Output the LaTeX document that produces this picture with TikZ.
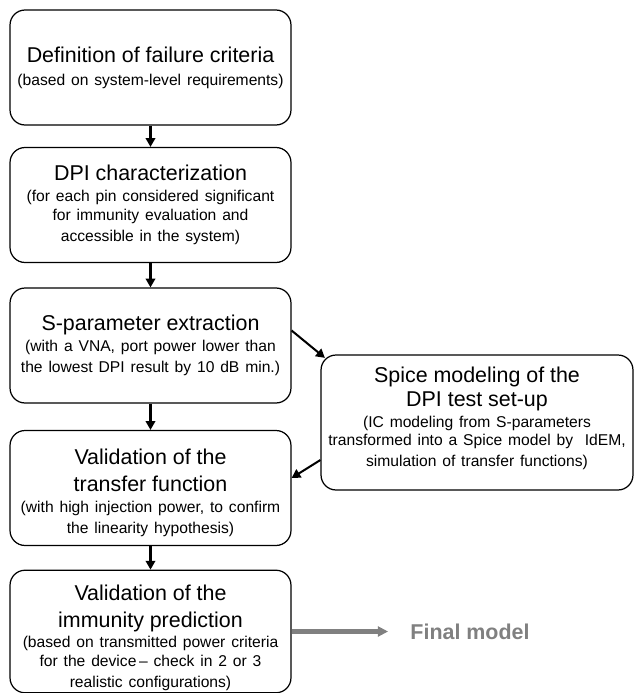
\documentclass[tikz,border=0pt]{standalone}
\usepackage{fontspec}
\setmainfont{Liberation Sans}
\usetikzlibrary{arrows.meta}
\newcommand{\ttlfont}{\fontsize{12.2}{15}\selectfont}
\newcommand{\subfont}{\fontsize{8.9}{10.8}\selectfont}
\tikzset{
  stepbox/.style={draw, line width=0.7pt, rounded corners=0.3cm, align=center,
    text width=5.45cm, minimum width=5.62cm, minimum height=2.3cm, inner sep=1pt},
  flow/.style={line width=1.15pt, -{Triangle[length=5pt,width=5.4pt]}},
  outflow/.style={line width=2.3pt, color=black!50, -{Triangle[length=5.8pt,width=5.6pt]}}
}

\begin{document}
\begin{tikzpicture}[x=0.02cm, y=-0.02cm]
			%%%%% START %%%%%
			\useasboundingbox (0, 0) rectangle (635, 693);
			
			% left column
			\node[stepbox] (crit) at (150.5, 67.5) {\ttlfont Definition of failure criteria\\[1pt]
				\subfont (based on system-level requirements)};
			\node[stepbox] (dpi) at (150.5, 205) {\ttlfont DPI characterization\\[1.5pt]
				\subfont (for each pin considered significant\\for immunity evaluation and\\accessible in the system)};
			\node[stepbox] (spar) at (150.5, 345.5) {\ttlfont S-parameter extraction\\[1.5pt]
				\subfont (with a VNA, port power lower than\\the lowest DPI result by 10 dB min.)};
			\node[stepbox] (trans) at (150.5, 488) {\ttlfont\rule{0pt}{14.6pt}Validation of the\\transfer function\\[1.5pt]
				\subfont (with high injection power, to confirm\\the linearity hypothesis)};
			\node[stepbox, minimum height=2.34cm] (immu) at (150.5, 631.5) {\ttlfont\rule{0pt}{16.5pt}Validation of the\\immunity prediction\\[0.8pt]
				\subfont (based on transmitted power criteria\\for the device\,-- check in 2 or 3\\realistic configurations)};
			
			% right box
			\node[stepbox, text width=6.1cm, minimum width=6.24cm, minimum height=2.7cm] (spice) at (477, 422.5)
				{\ttlfont Spice modeling of the\\[-1.5pt]DPI test set-up\\[1.5pt]
				\fontsize{8.9}{10.2}\selectfont (IC modeling from S-parameters\\transformed into a Spice model by\ \ IdEM,\\simulation of transfer functions)\rule[-6.5pt]{0pt}{0pt}};
			
			\node[inner sep=0pt, text=black!50, font=\fontsize{12.2}{15}\selectfont\bfseries] (final) at (470, 631.5) {Final model};
			
			% connectors
			\draw[flow] (crit) -- (dpi);
			\draw[flow] (dpi) -- (spar);
			\draw[flow] (spar) -- (trans);
			\draw[flow] (trans) -- (immu);
			\draw[flow] ([yshift=0.3cm]spar.east) -- ([shift={(0.09cm,-0.07cm)}]spice.north west);
			\draw[flow] ([yshift=-0.75cm]spice.west) -- ([yshift=0.2cm]trans.east);
			\draw[outflow] (immu.east) -- ([xshift=-0.44cm]final.west);
			
			%%%%% END %%%%%
\end{tikzpicture}
\end{document}
